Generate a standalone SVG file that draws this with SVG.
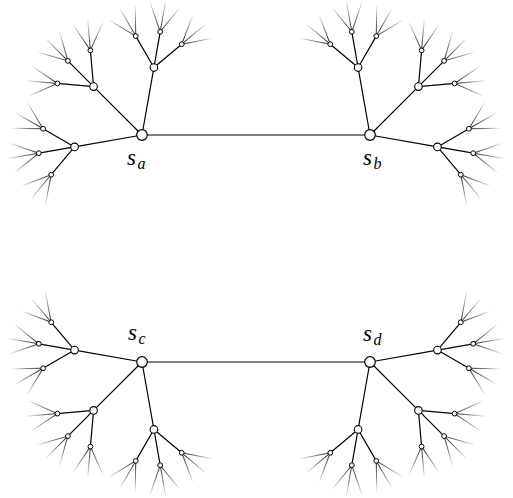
<svg xmlns="http://www.w3.org/2000/svg" xmlns:xlink="http://www.w3.org/1999/xlink" width="513" height="498" viewBox="0 0 513 498">
<style>
.e{fill:none;stroke:#000;stroke-width:1.2}
.f line{stroke:url(#fade);stroke-width:1}
.n0{fill:#fff;stroke:#000;stroke-width:1.2}
.n1{fill:#fff;stroke:#000;stroke-width:1.1}
.n2{fill:#fff;stroke:#000;stroke-width:1}
</style>
<defs>
<linearGradient id="fade" gradientUnits="userSpaceOnUse" x1="0" y1="0" x2="31" y2="0">
<stop offset="0" stop-color="#222222"/>
<stop offset="0.5" stop-color="#808080"/>
<stop offset="1" stop-color="#f2f2f2"/>
</linearGradient>
<g id="fan" class="f">
<line x1="0" y1="0" x2="31" y2="0"/>
<line x1="0" y1="0" x2="31" y2="0" transform="rotate(-29)"/>
<line x1="0" y1="0" x2="31" y2="0" transform="rotate(29)"/>
</g>
<g id="treeEdges">
<path class="e" d="M142 135L74.54 146.9M142 135L93.56 86.56M142 135L153.9 67.54M74.54 146.9L51.21 174.71M74.54 146.9L38.79 153.2M74.54 146.9L43.1 128.75M93.56 86.56L57.4 83.4M93.56 86.56L67.89 60.89M93.56 86.56L90.4 50.4M153.9 67.54L135.75 36.1M153.9 67.54L160.2 31.79M153.9 67.54L181.71 44.21"/>
<use xlink:href="#fan" href="#fan" transform="translate(51.21 174.71) rotate(130)"/>
<use xlink:href="#fan" href="#fan" transform="translate(38.79 153.2) rotate(170)"/>
<use xlink:href="#fan" href="#fan" transform="translate(43.1 128.75) rotate(210)"/>
<use xlink:href="#fan" href="#fan" transform="translate(57.4 83.4) rotate(185)"/>
<use xlink:href="#fan" href="#fan" transform="translate(67.89 60.89) rotate(225)"/>
<use xlink:href="#fan" href="#fan" transform="translate(90.4 50.4) rotate(265)"/>
<use xlink:href="#fan" href="#fan" transform="translate(135.75 36.1) rotate(240)"/>
<use xlink:href="#fan" href="#fan" transform="translate(160.2 31.79) rotate(280)"/>
<use xlink:href="#fan" href="#fan" transform="translate(181.71 44.21) rotate(320)"/>
</g>
</defs>

<g id="connectors">
<line class="e" x1="142" y1="135" x2="370" y2="135"/>
<line class="e" x1="142" y1="362" x2="370" y2="362"/>
<use id="edges-a" xlink:href="#treeEdges" href="#treeEdges"/>
<use id="edges-b" xlink:href="#treeEdges" href="#treeEdges" transform="matrix(-1 0 0 1 512 0)"/>
<use id="edges-c" xlink:href="#treeEdges" href="#treeEdges" transform="matrix(1 0 0 -1 0 497)"/>
<use id="edges-d" xlink:href="#treeEdges" href="#treeEdges" transform="matrix(-1 0 0 -1 512 497)"/>
</g>

<g id="tree-a">
<g id="sa"><circle class="n0" cx="142" cy="135" r="5.3"/></g>
<g id="a1"><circle class="n1" cx="74.54" cy="146.9" r="3.8"/></g>
<g id="a2"><circle class="n1" cx="93.56" cy="86.56" r="3.8"/></g>
<g id="a3"><circle class="n1" cx="153.9" cy="67.54" r="3.8"/></g>
<g id="a11"><circle class="n2" cx="51.21" cy="174.71" r="2.4"/></g>
<g id="a12"><circle class="n2" cx="38.79" cy="153.2" r="2.4"/></g>
<g id="a13"><circle class="n2" cx="43.1" cy="128.75" r="2.4"/></g>
<g id="a21"><circle class="n2" cx="57.4" cy="83.4" r="2.4"/></g>
<g id="a22"><circle class="n2" cx="67.89" cy="60.89" r="2.4"/></g>
<g id="a23"><circle class="n2" cx="90.4" cy="50.4" r="2.4"/></g>
<g id="a31"><circle class="n2" cx="135.75" cy="36.1" r="2.4"/></g>
<g id="a32"><circle class="n2" cx="160.2" cy="31.79" r="2.4"/></g>
<g id="a33"><circle class="n2" cx="181.71" cy="44.21" r="2.4"/></g>
</g>

<g id="tree-b" transform="matrix(-1 0 0 1 512 0)">
<g id="sb"><circle class="n0" cx="142" cy="135" r="5.3"/></g>
<g id="b1"><circle class="n1" cx="74.54" cy="146.9" r="3.8"/></g>
<g id="b2"><circle class="n1" cx="93.56" cy="86.56" r="3.8"/></g>
<g id="b3"><circle class="n1" cx="153.9" cy="67.54" r="3.8"/></g>
<g id="b11"><circle class="n2" cx="51.21" cy="174.71" r="2.4"/></g>
<g id="b12"><circle class="n2" cx="38.79" cy="153.2" r="2.4"/></g>
<g id="b13"><circle class="n2" cx="43.1" cy="128.75" r="2.4"/></g>
<g id="b21"><circle class="n2" cx="57.4" cy="83.4" r="2.4"/></g>
<g id="b22"><circle class="n2" cx="67.89" cy="60.89" r="2.4"/></g>
<g id="b23"><circle class="n2" cx="90.4" cy="50.4" r="2.4"/></g>
<g id="b31"><circle class="n2" cx="135.75" cy="36.1" r="2.4"/></g>
<g id="b32"><circle class="n2" cx="160.2" cy="31.79" r="2.4"/></g>
<g id="b33"><circle class="n2" cx="181.71" cy="44.21" r="2.4"/></g>
</g>

<g id="tree-c" transform="matrix(1 0 0 -1 0 497)">
<g id="sc"><circle class="n0" cx="142" cy="135" r="5.3"/></g>
<g id="c1"><circle class="n1" cx="74.54" cy="146.9" r="3.8"/></g>
<g id="c2"><circle class="n1" cx="93.56" cy="86.56" r="3.8"/></g>
<g id="c3"><circle class="n1" cx="153.9" cy="67.54" r="3.8"/></g>
<g id="c11"><circle class="n2" cx="51.21" cy="174.71" r="2.4"/></g>
<g id="c12"><circle class="n2" cx="38.79" cy="153.2" r="2.4"/></g>
<g id="c13"><circle class="n2" cx="43.1" cy="128.75" r="2.4"/></g>
<g id="c21"><circle class="n2" cx="57.4" cy="83.4" r="2.4"/></g>
<g id="c22"><circle class="n2" cx="67.89" cy="60.89" r="2.4"/></g>
<g id="c23"><circle class="n2" cx="90.4" cy="50.4" r="2.4"/></g>
<g id="c31"><circle class="n2" cx="135.75" cy="36.1" r="2.4"/></g>
<g id="c32"><circle class="n2" cx="160.2" cy="31.79" r="2.4"/></g>
<g id="c33"><circle class="n2" cx="181.71" cy="44.21" r="2.4"/></g>
</g>

<g id="tree-d" transform="matrix(-1 0 0 -1 512 497)">
<g id="sd"><circle class="n0" cx="142" cy="135" r="5.3"/></g>
<g id="d1"><circle class="n1" cx="74.54" cy="146.9" r="3.8"/></g>
<g id="d2"><circle class="n1" cx="93.56" cy="86.56" r="3.8"/></g>
<g id="d3"><circle class="n1" cx="153.9" cy="67.54" r="3.8"/></g>
<g id="d11"><circle class="n2" cx="51.21" cy="174.71" r="2.4"/></g>
<g id="d12"><circle class="n2" cx="38.79" cy="153.2" r="2.4"/></g>
<g id="d13"><circle class="n2" cx="43.1" cy="128.75" r="2.4"/></g>
<g id="d21"><circle class="n2" cx="57.4" cy="83.4" r="2.4"/></g>
<g id="d22"><circle class="n2" cx="67.89" cy="60.89" r="2.4"/></g>
<g id="d23"><circle class="n2" cx="90.4" cy="50.4" r="2.4"/></g>
<g id="d31"><circle class="n2" cx="135.75" cy="36.1" r="2.4"/></g>
<g id="d32"><circle class="n2" cx="160.2" cy="31.79" r="2.4"/></g>
<g id="d33"><circle class="n2" cx="181.71" cy="44.21" r="2.4"/></g>
</g>

<g id="labels" font-family="'Liberation Serif', 'DejaVu Serif', serif" font-style="italic" font-size="23" fill="#000">
<text x="127" y="165">s<tspan font-size="16" dx="1.5" dy="3.5">a</tspan></text>
<text x="363" y="165">s<tspan font-size="16" dx="1.5" dy="3.5">b</tspan></text>
<text x="128" y="340">s<tspan font-size="16" dx="1.5" dy="3.5">c</tspan></text>
<text x="363" y="341">s<tspan font-size="16" dx="1.5" dy="3.5">d</tspan></text>
</g>
</svg>
